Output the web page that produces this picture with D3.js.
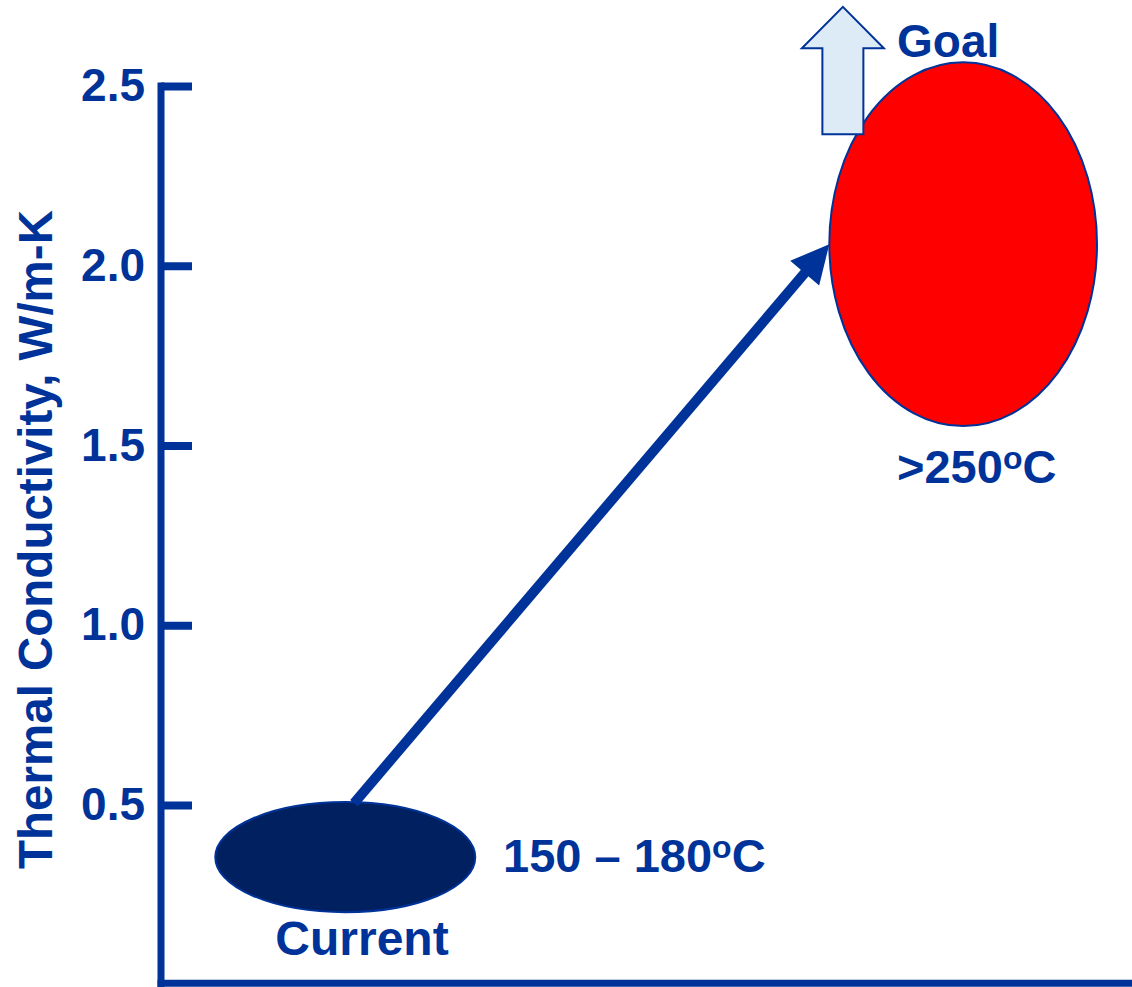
<!DOCTYPE html>
<html>
<head>
<meta charset="utf-8">
<script src="https://cdn.jsdelivr.net/npm/d3@7"></script>
<style>
  html, body { margin: 0; padding: 0; background: #ffffff; }
  svg { display: block; }
  text { font-family: "Liberation Sans", Arial, sans-serif; font-weight: bold; fill: #003399; }
</style>
</head>
<body>
<svg id="chart" width="1132" height="987"></svg>
<script>
// ---- data ----
const yTicks = [0.5, 1.0, 1.5, 2.0, 2.5];
const yLabel = "Thermal Conductivity, W/m-K";
// ellipses: [name, cx, cy, rx (x units), ry (y units)]
const blobNames = ["Current", "Goal"];
const blobCx = [1.91, 8.28];
const blobCy = [0.355, 2.06];
const blobRx = [1.34, 1.38];
const blobRy = [0.153, 0.506];
const blobLabels = ["150 – 180", ">250"];
// trend arrow from current to goal
const arrowFrom = [2.0, 0.505];
const arrowTo = [6.9, 2.06];
// goal up arrow (x centre, bottom, head base, tip)
const upArrowX = 7.04;
const upArrowY = [2.366, 2.605, 2.72];

const svg = d3.select("#chart");
const blue = "#003399";

const x = d3.scaleLinear().domain([0, 10]).range([160, 1130]);
const y = d3.scaleLinear().domain([0, 2.5]).range([984.75, 86]);

// axes lines
svg.append("line").attr("x1", x(0) + 1).attr("x2", x(0) + 1).attr("y1", y(2.5) - 3.5).attr("y2", 987)
  .attr("stroke", blue).attr("stroke-width", 7);
svg.append("line").attr("x1", x(0) - 2.5).attr("x2", 1132).attr("y1", y(0) - 1.5).attr("y2", y(0) - 1.5)
  .attr("stroke", blue).attr("stroke-width", 7);

const yAxis = d3.axisLeft(y).tickValues(yTicks).tickFormat(d3.format(".1f"))
  .tickSizeInner(-31).tickSizeOuter(0).tickPadding(16);
const gy = svg.append("g").attr("transform", `translate(${x(0) + 1},0)`).call(yAxis);
gy.select(".domain").remove();
gy.selectAll(".tick line").attr("stroke", blue).attr("stroke-width", 8);
gy.selectAll(".tick text").attr("fill", blue).style("font-size", "46px")
  .style("font-family", "'Liberation Sans', Arial, sans-serif").style("font-weight", "bold");

// y label
svg.append("text")
  .attr("transform", `translate(52, ${539.5}) rotate(-90)`)
  .attr("text-anchor", "middle")
  .style("font-size", "47.5px")
  .text(yLabel);

// trend arrow
const ax1 = x(arrowFrom[0]), ay1 = y(arrowFrom[1]);
const ax2 = x(arrowTo[0]), ay2 = y(arrowTo[1]);
const ang = Math.atan2(ay2 - ay1, ax2 - ax1);
const headLen = 38, headHalf = 19;
const bx = ax2 - headLen * Math.cos(ang), by = ay2 - headLen * Math.sin(ang);

// ellipses
const blobFill = ["#002060", "#FF0000"];
svg.selectAll("ellipse.blob").data(blobNames).join("ellipse")
  .attr("class", "blob")
  .attr("cx", (d, i) => x(blobCx[i]))
  .attr("cy", (d, i) => y(blobCy[i]))
  .attr("rx", (d, i) => x(blobRx[i]) - x(0))
  .attr("ry", (d, i) => y(0) - y(blobRy[i]))
  .attr("fill", (d, i) => blobFill[i])
  .attr("stroke", blue).attr("stroke-width", 2);

svg.append("line").attr("x1", ax1).attr("y1", ay1).attr("x2", bx + 2 * Math.cos(ang)).attr("y2", by + 2 * Math.sin(ang))
  .attr("stroke", blue).attr("stroke-width", 10);
svg.append("path")
  .attr("d", d3.line()([
    [ax2, ay2],
    [bx + headHalf * Math.sin(ang), by - headHalf * Math.cos(ang)],
    [bx - headHalf * Math.sin(ang), by + headHalf * Math.cos(ang)]
  ]) + "Z")
  .attr("fill", blue);

// goal up arrow
const ux = x(upArrowX);
const shaftHalf = 20.5, upHeadHalf = 41;
svg.append("path")
  .attr("d", d3.line()([
    [ux - shaftHalf, y(upArrowY[0])],
    [ux - shaftHalf, y(upArrowY[1])],
    [ux - upHeadHalf, y(upArrowY[1])],
    [ux, y(upArrowY[2])],
    [ux + upHeadHalf, y(upArrowY[1])],
    [ux + shaftHalf, y(upArrowY[1])],
    [ux + shaftHalf, y(upArrowY[0])]
  ]) + "Z")
  .attr("fill", "#DDEBF7").attr("stroke", blue).attr("stroke-width", 2);

// labels
svg.append("text").attr("x", 897).attr("y", 57).style("font-size", "46px").text("Goal");
svg.append("text").attr("x", 362).attr("y", 955).attr("text-anchor", "middle").style("font-size", "48px").text("Current");

function tempLabel(tx, ty, base) {
  const t = svg.append("text").attr("x", tx).attr("y", ty).style("font-size", "47px");
  t.append("tspan").text(base);
  t.append("tspan").attr("dy", -14).style("font-size", "32px").text("o");
  t.append("tspan").attr("dy", 14).text("C");
}
tempLabel(503, 872, blobLabels[0]);
tempLabel(897, 483, blobLabels[1]);
</script>
</body>
</html>
